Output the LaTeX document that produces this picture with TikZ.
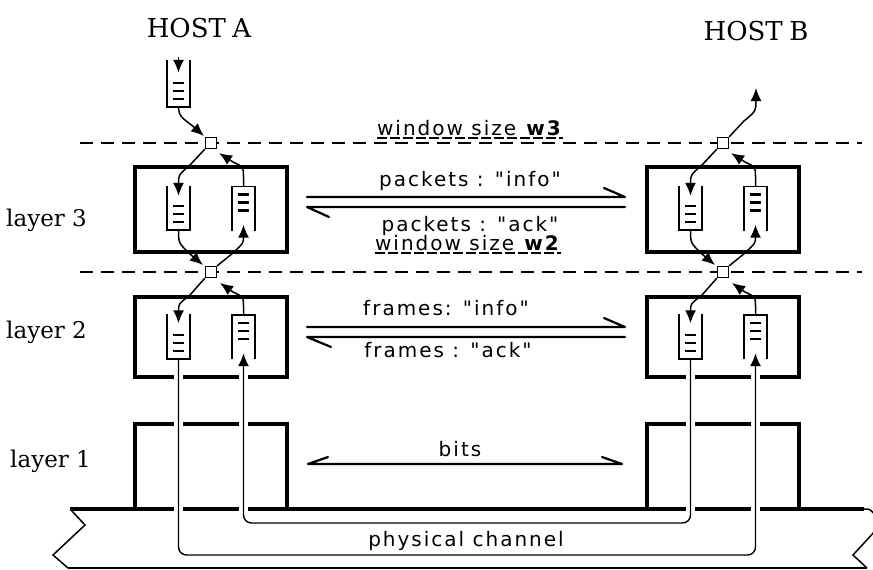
\documentclass[tikz,border=0pt]{standalone}
\usepackage{fontspec}
\setmainfont{DejaVu Serif}
\newfontfamily\msgfont[LetterSpace=10,Ligatures=TeXOff]{DejaVu Sans}
\usetikzlibrary{arrows.meta}
\newcommand\qdn[1]{%
  \draw[qwall] (#1.north west) -- (#1.south west) -- (#1.south east) -- (#1.north east);
  \foreach \qo in {8,16,24}{\draw[qline] ([xshift=-5.5pt,yshift=\qo pt]#1.south) -- ([xshift=5.5pt,yshift=\qo pt]#1.south);}%
}
\newcommand\qupp[1]{%
  \draw[qwall] (#1.south west) -- (#1.north west) -- (#1.north east) -- (#1.south east);
  \foreach \qo in {8,16,24}{\draw[qline] ([xshift=-5.5pt,yshift=-\qo pt]#1.north) -- ([xshift=5.5pt,yshift=-\qo pt]#1.north);}%
}
\begin{document}
\begin{tikzpicture}[x=1pt,y=-1pt,
  boxline/.style={line width=4pt},
  dashline/.style={line width=2.5pt,dash pattern=on 13pt off 8pt},
  sq/.style={draw,fill=white,line width=1.3pt,minimum size=11pt,inner sep=0pt},
  queue/.style={minimum width=23pt,minimum height=44pt,inner sep=0pt},
  qwall/.style={line width=1.6pt},
  qline/.style={line width=2.4pt},
  conn/.style={line width=1.5pt,-{Latex[length=13pt,width=11pt]}},
  loopline/.style={line width=1.4pt,rounded corners=8pt,-{Latex[length=13pt,width=11pt]}},
  msg/.style={line width=2.2pt,line join=round,line cap=round},
  lbl/.style={font=\msgfont\fontsize{20}{22}\selectfont,inner sep=0pt,anchor=base},
  hostlbl/.style={font=\fontsize{26}{28}\selectfont,inner sep=0pt,anchor=base},
  layerlbl/.style={font=\fontsize{23}{26}\selectfont,inner sep=0pt,anchor=base west},
  uline/.style={line width=1.5pt,dash pattern=on 10pt off 3pt}
]
\useasboundingbox (0,0) rectangle (873,570);
\fill[white] (0,0) rectangle (873,570);

% dashed window lines
\draw[dashline] (80,143) -- (862,143);
\draw[dashline] (80,272) -- (862,272);

% physical channel
\draw[line width=3.5pt] (70,509) -- (864,509);
\draw[line width=1.5pt] (864,509) .. controls (870,509) .. (875,515);
\draw[line width=1.5pt] (71,510) -- (85,525) -- (53,555) -- (68,568);
\draw[line width=2.3pt] (68,568) -- (867,568);
\draw[line width=1.5pt] (876,530) -- (853,555) -- (867,568);

% hosts
\foreach \h/\dx in {A/0,B/512}{
\begin{scope}[xshift=\dx pt]
  \draw[boxline] (135,167) rectangle (287,252);
  \draw[boxline] (135,297) rectangle (287,377);
  \draw[boxline] (135,509) -- (135,424) -- (287,424) -- (287,509);
  \foreach \gx in {178.5,243.5}{
    \foreach \gy in {377,424,509}{
      \fill[white] (\gx-4.5,\gy-3.5) rectangle (\gx+4.5,\gy+3.5);
    }
  }
  \node[queue] (q\h3l) at (178.5,208) {};
  \node[queue] (q\h3r) at (243.5,208.5) {};
  \node[queue] (q\h2l) at (178.5,336.5) {};
  \node[queue] (q\h2r) at (243.5,337) {};
  \qdn{q\h3l}
  \qupp{q\h3r}
  \qdn{q\h2l}
  \qupp{q\h2r}
  \node[sq] (s\h3) at (211,143) {};
  \node[sq] (s\h2) at (211,272) {};
  % layer 3 connectors
  \draw[conn] (s\h3.south west) -- (190,165) .. controls (178.5,175) .. ([yshift=-10pt]q\h3l.north);
  \draw[conn] (q\h3r.north) -- (243.5,177) .. controls (243.5,167) .. (233,162) -- (219,153);
  \draw[conn] (q\h3l.south) .. controls (178.5,243) .. (190,254) -- (203,265);
  \draw[conn] (s\h2.north east) -- (233,253) .. controls (243.5,243) .. ([yshift=6pt]q\h3r.south);
  % layer 2 connectors
  \draw[conn] (s\h2.south west) -- (190,295) .. controls (178.5,304) .. ([yshift=-9pt]q\h2l.north);
  \draw[conn] (q\h2r.north) -- (243.5,306) .. controls (243.5,297) .. (233,292) -- (220,283);
\end{scope}
}

% host A input queue
\node[queue,minimum height=47pt] (qA0) at (178.5,83.5) {};
\qdn{qA0}
\draw[conn] ([yshift=3pt]qA0.north) -- ([yshift=-13pt]qA0.north);
\draw[conn] (qA0.south) .. controls (178.5,118) and (186,120) .. (204,136);
% host B output
\draw[conn] (sB3.north east) -- (744,121) .. controls (756,111) .. (756,88);

% physical loops
\coordinate (lo) at (467,555);
\coordinate (li) at (467,523);
\draw[loopline] (qA2l.south) |- (lo) -| ([yshift=6pt]qB2r.south);
\draw[loopline] (qB2l.south) |- (li) -| ([yshift=6pt]qA2r.south);

% message arrows layer 3
\coordinate (m3a) at (307,197); \coordinate (m3b) at (625,197);
\coordinate (m3c) at (307,207); \coordinate (m3d) at (625,207);
\draw[msg] (m3a) -- (m3b) -- ++(-21,-9);
\draw[msg] (m3d) -- (m3c) -- ++(22,10);
% layer 2
\coordinate (m2a) at (307,327); \coordinate (m2b) at (625,327);
\coordinate (m2c) at (307,337); \coordinate (m2d) at (625,337);
\draw[msg] (m2a) -- (m2b) -- ++(-21,-9);
\draw[msg] (m2d) -- (m2c) -- ++(24,10);
% bits
\coordinate (b1) at (308,464); \coordinate (b2) at (622,464);
\draw[msg] (b1) ++(20,-7) -- (b1) -- (b2) -- ++(-20,-7);

% labels
\node[hostlbl] (hostA) at (199,37) {HOST\hspace{0.25em}A};
\node[hostlbl] (hostB) at (756,40) {HOST\hspace{0.25em}B};
\node[layerlbl] (l3) at (6,226) {layer 3};
\node[layerlbl] (l2) at (6,338) {layer 2};
\node[layerlbl] (l1) at (10,467) {layer 1};

\node[lbl] (w3) at (470,135) {window size \textbf{w3}};
\draw[uline] ([yshift=-3pt]w3.base west) -- ([yshift=-3pt]w3.base east);
\node[lbl] (w2) at (468,250) {window size \textbf{w2}};
\draw[uline] ([yshift=-3pt]w2.base west) -- ([yshift=-3pt]w2.base east);
\node[lbl] (t3i) at (470,186) {packets : "info"};
\node[lbl] (t3a) at (470,231) {packets : "ack"};
\node[lbl] (t2i) at (446,315) {frames: "info"};
\node[lbl] (t2a) at (448,357) {frames : "ack"};
\node[lbl] (tb) at (460,456) {bits};
\node[lbl] (tp) at (466,546) {physical channel};
\end{tikzpicture}
\end{document}
